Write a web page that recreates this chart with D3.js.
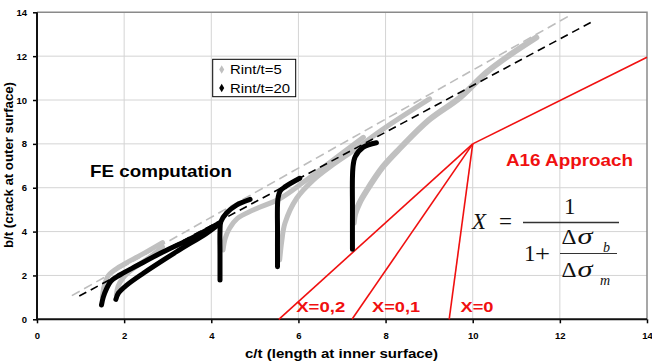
<!DOCTYPE html>
<html><head><meta charset="utf-8">
<script src="https://cdn.jsdelivr.net/npm/d3@7"></script>
<style>
body{margin:0;background:#fff}
svg{display:block}
text{font-family:Arial,"Liberation Sans",sans-serif}
.serif{font-family:"Times New Roman","Liberation Serif",serif}
</style>
</head><body>
<svg id="c" width="652" height="362"></svg>
<script>
// ---------- data ----------
const xTicks = [0, 2, 4, 6, 8, 10, 12, 14];
const yTicks = [0, 2, 4, 6, 8, 10, 12, 14];
const seriesNames = ["Rint/t=5", "Rint/t=20"];

// Rint/t=5 (grey) FE curves
const gray1 = [[1.50,1.00],[1.54,1.50],[1.64,2.00],[1.90,2.40],[2.40,2.95],[2.88,3.50]];
const gray2 = [[1.82,1.10],[1.86,1.50],[1.98,1.90],[2.20,2.30],[2.60,2.85],[2.88,3.30]];
const gray3 = [[4.27,3.16],[4.32,3.70],[4.42,4.15],[4.60,4.60],[4.96,4.98],[5.57,5.50],[6.11,6.25],[6.72,7.15],[7.49,8.30]];
const gray4 = [[5.57,2.71],[5.62,3.60],[5.69,4.38],[5.96,5.52],[6.34,6.35],[6.72,6.95],[7.30,7.75],[8.00,8.75],[9.01,10.05]];
const gray5 = [[7.27,4.40],[7.30,4.80],[7.40,5.30],[7.56,5.85],[7.94,6.96],[8.33,7.80],[9.00,9.10],[9.70,10.10],[10.31,11.25],[10.85,12.05],[11.46,12.85]];

// Rint/t=20 (black) FE curves
const black1 = [[1.48,0.65],[1.52,1.00],[1.60,1.41],[1.70,1.75],[1.90,2.02],[2.30,2.45],[2.82,3.00],[3.50,3.65],[4.15,4.35]];
const black2 = [[1.81,0.91],[1.87,1.20],[2.06,1.56],[2.44,2.10],[3.20,3.08],[3.89,3.92],[4.15,4.30]];
const black3 = [[4.20,1.79],[4.20,3.00],[4.20,4.00],[4.22,4.45],[4.35,4.85],[4.58,5.21],[4.89,5.47]];
const black4 = [[5.52,2.40],[5.52,4.00],[5.53,5.50],[5.58,5.85],[5.70,6.05],[6.03,6.43]];
const black5 = [[7.24,3.20],[7.24,5.00],[7.25,6.90],[7.30,7.40],[7.49,7.85],[7.79,8.05]];

// trend lines (dashed)
const grayTrend  = [[0.80,1.08],[12.27,13.90]];
const blackTrend = [[0.97,1.06],[12.74,13.57]];

// A16 approach lines
const redApex  = [10, 8];
const redBases = [[5.55,0],[7.23,0],[9.46,0]];
const redLabels = ["X=0,2","X=0,1","X=0"];
const redUpper = [[10,8],[14,11.95]];

// ---------- drawing ----------
const svg = d3.select("#c");
const x = d3.scaleLinear([0,14],[37,647]);
const y = d3.scaleLinear([0,14],[319.3,12.3]);

// grid
const grid = svg.append("g");
grid.selectAll(".gx").data(xTicks.filter(d=>d>0&&d<14)).join("line")
  .attr("x1",d=>x(d)).attr("x2",d=>x(d)).attr("y1",y(0)).attr("y2",y(14))
  .attr("stroke","#d4d4d4").attr("stroke-width",1);
grid.selectAll(".gy").data(yTicks.filter(d=>d>0&&d<14)).join("line")
  .attr("y1",d=>y(d)).attr("y2",d=>y(d)).attr("x1",x(0)).attr("x2",x(14))
  .attr("stroke","#d4d4d4").attr("stroke-width",1);
// border top/right
svg.append("path").attr("d",`M${x(0)},${y(14)}H${x(14)}V${y(0)}`)
  .attr("fill","none").attr("stroke","#8a8a8a").attr("stroke-width",1.5);

// axes
const ax = svg.append("g").attr("transform",`translate(0,${y(0)})`)
  .call(d3.axisBottom(x).tickValues(xTicks).tickSize(4).tickPadding(9).tickFormat(d3.format("d")));
const ay = svg.append("g").attr("transform",`translate(${x(0)},0)`)
  .call(d3.axisLeft(y).tickValues(yTicks).tickSize(4).tickPadding(6).tickFormat(d3.format("d")));
[ax,ay].forEach(g=>{
  g.select(".domain").remove();
  g.selectAll(".tick line").attr("stroke","#000").attr("stroke-width",1.5);
  g.selectAll(".tick text").attr("font-family","Arial, 'Liberation Sans', sans-serif")
    .attr("font-size",9.5).attr("font-weight","bold").attr("fill","#000");
});
svg.append("path").attr("d",`M${x(0)},${y(14)}V${y(0)}H${x(14)}`)
  .attr("fill","none").attr("stroke","#111").attr("stroke-width",2);

// axis titles
svg.append("text").attr("x",341.5).attr("y",358).attr("text-anchor","middle")
  .attr("font-size",13).attr("font-weight","bold").attr("textLength",193).attr("lengthAdjust","spacingAndGlyphs")
  .text("c/t (length at inner surface)");
svg.append("text").attr("transform",`translate(13,${165}) rotate(-90)`).attr("text-anchor","middle")
  .attr("font-size",13).attr("font-weight","bold").attr("textLength",166).attr("lengthAdjust","spacingAndGlyphs")
  .text("b/t (crack at outer surface)");

// red A16 lines
const red = "#f01010";
const lineGen = d3.line().x(d=>x(d[0])).y(d=>y(d[1]));
redBases.forEach(b=>{
  svg.append("path").attr("d",lineGen([b,redApex])).attr("stroke",red).attr("stroke-width",1.6).attr("fill","none");
});
svg.append("path").attr("d",lineGen(redUpper)).attr("stroke",red).attr("stroke-width",1.6).attr("fill","none");

// trend lines
svg.append("path").attr("d",lineGen(grayTrend)).attr("stroke","#bdbdbd").attr("stroke-width",1.6)
  .attr("stroke-dasharray","9,5").attr("fill","none");

// FE curves
const curveGen = d3.line().x(d=>x(d[0])).y(d=>y(d[1])).curve(d3.curveCatmullRom.alpha(0.5));
const grays = [gray1,gray2,gray3,gray4,gray5];
const blacks = [black1,black2,black3,black4,black5];
svg.append("g").selectAll("path").data(grays).join("path")
  .attr("d",curveGen).attr("fill","none").attr("stroke","#c0c0c0")
  .attr("stroke-width",(d,i)=>i===4?6:5).attr("stroke-linecap","round").attr("stroke-linejoin","round");
svg.append("path").attr("d",lineGen(blackTrend)).attr("stroke","#000").attr("stroke-width",1.6)
  .attr("stroke-dasharray","8,5").attr("fill","none");
svg.append("g").selectAll("path").data(blacks).join("path")
  .attr("d",curveGen).attr("fill","none").attr("stroke","#000")
  .attr("stroke-width",5).attr("stroke-linecap","round").attr("stroke-linejoin","round");

// red labels
const labelX = [5.95, 7.69, 9.72];
const labelW = [49, 48, 33];
redLabels.forEach((t,i)=>{
  svg.append("text").attr("x",x(labelX[i])).attr("y",y(0)-7.5)
    .attr("font-size",15).attr("font-weight","bold").attr("fill",red)
    .attr("textLength",labelW[i]).attr("lengthAdjust","spacingAndGlyphs").text(t);
});
svg.append("text").attr("x",506).attr("y",166).attr("font-size",17).attr("font-weight","bold").attr("fill",red)
  .attr("textLength",127).attr("lengthAdjust","spacingAndGlyphs").text("A16 Approach");
svg.append("text").attr("x",90).attr("y",177).attr("font-size",17).attr("font-weight","bold").attr("fill","#000")
  .attr("textLength",142).attr("lengthAdjust","spacingAndGlyphs").text("FE computation");

// legend
const lg = svg.append("g");
lg.append("rect").attr("x",212.7).attr("y",59.3).attr("width",83).attr("height",37.4)
  .attr("fill","#fff").attr("stroke","#000").attr("stroke-width",1);
const legColors = ["#c0c0c0","#000"];
const legW = [51.7, 60];
seriesNames.forEach((n,i)=>{
  const cy = 69.5 + i*18.5;
  lg.append("path").attr("d",d3.symbol(d3.symbolDiamond,22)()).attr("transform",`translate(221.7,${cy})`)
    .attr("fill",legColors[i]);
  lg.append("text").attr("x",230).attr("y",cy+4.6).attr("font-size",13).attr("fill","#000")
    .attr("textLength",legW[i]).attr("lengthAdjust","spacingAndGlyphs").text(n);
});

// formula
const f = svg.append("g").attr("fill","#111");
const ft = (tx,ty,s,size,ital,w)=>{
  const t = f.append("text").attr("class","serif").attr("x",tx).attr("y",ty)
    .attr("font-size",size).attr("font-style",ital?"italic":"normal").text(s);
  if (w) t.attr("textLength",w).attr("lengthAdjust","spacingAndGlyphs");
  return t;
};
ft(472,228.5,"X",23,true);
ft(499,229,"=",23,false);
f.append("line").attr("x1",523).attr("x2",619).attr("y1",222.5).attr("y2",222.5).attr("stroke","#333").attr("stroke-width",1.3);
ft(564,213.5,"1",23,false);
ft(524,260.5,"1",23,false);
ft(535,260.5,"+",23,false,15);
f.append("line").attr("x1",560).attr("x2",617).attr("y1",253.5).attr("y2",253.5).attr("stroke","#333").attr("stroke-width",1.2);
ft(561.5,243.5,"Δ",21,false,15);
ft(577.5,243.5,"σ",23,true,15);
ft(603,251.5,"b",14,true);
ft(561.5,277,"Δ",21,false,15);
ft(577.5,277,"σ",23,true,15);
ft(600,285,"m",14,true);
</script>
</body></html>
